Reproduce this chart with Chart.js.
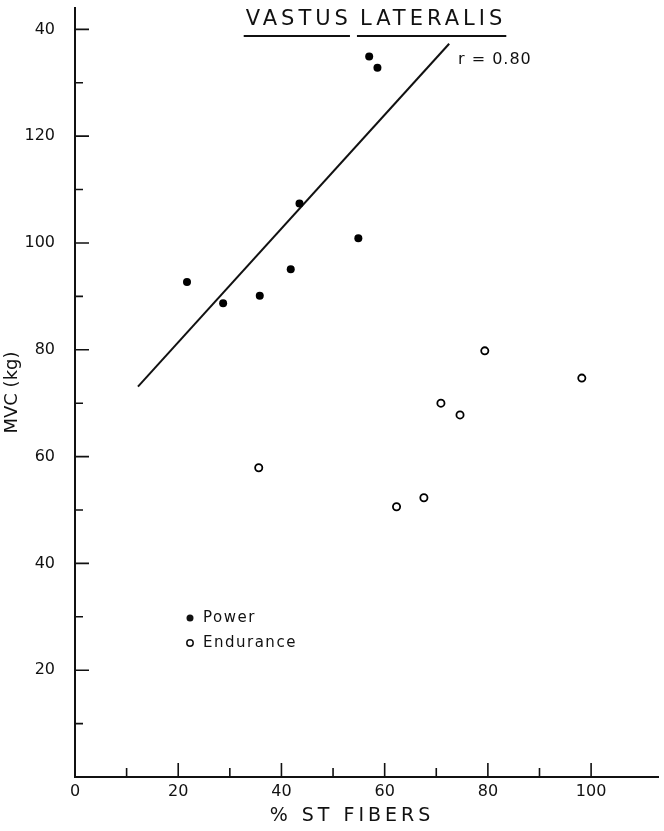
<!DOCTYPE html>
<html>
<head>
<meta charset="utf-8">
<script src="https://cdn.jsdelivr.net/npm/chart.js@4.4.0/dist/chart.umd.min.js"></script>
<style>
    html, body { margin: 0; padding: 0; background: #fff; }
    #wrap { position: relative; width: 664px; height: 831px; }
</style>
</head>
<body>
<div id="wrap"><canvas id="mvcChart"></canvas></div>
<script>
// values
var powerST = [21.7, 28.7, 35.8, 41.8, 43.5, 54.9, 57.0, 58.6];
var powerMVC = [92.7, 88.7, 90.1, 95.1, 107.4, 100.9, 134.9, 132.8];
var enduranceST = [35.6, 62.3, 67.6, 70.9, 74.6, 79.4, 98.2];
var enduranceMVC = [57.9, 50.6, 52.3, 70.0, 67.8, 79.8, 74.7];
var fitST = [12.2, 72.5];
var fitMVC = [73.1, 137.3];

var xTicks = [0, 20, 40, 60, 80, 100];
var xTickLabels = ['0', '20', '40', '60', '80', '100'];
var xMinor = [10, 30, 50, 70, 90];
var yTicks = [20, 40, 60, 80, 100, 120, 140];
var yTickLabels = ['20', '40', '60', '80', '100', '120', '40'];
var yMinor = [10, 30, 50, 70, 90, 110, 130];

var FONT = '"DejaVu Sans", sans-serif';

function toPoints(xs, ys) {
    return xs.map(function (x, i) { return { x: x, y: ys[i] }; });
}

// inward ticks, title, legend and notes
var decorations = {
    id: 'decorations',
    afterDraw: function (chart) {
        var ctx = chart.ctx;
        var xs = chart.scales.x, ys = chart.scales.y;
        var left = chart.chartArea.left, bottom = chart.chartArea.bottom;
        ctx.save();
        ctx.strokeStyle = '#111';
        ctx.lineWidth = 1.6;
        ctx.beginPath();
        yTicks.forEach(function (v) { var p = ys.getPixelForValue(v); ctx.moveTo(left, p); ctx.lineTo(left + 14, p); });
        yMinor.forEach(function (v) { var p = ys.getPixelForValue(v); ctx.moveTo(left, p); ctx.lineTo(left + 8, p); });
        xTicks.slice(1).forEach(function (v) { var p = xs.getPixelForValue(v); ctx.moveTo(p, bottom); ctx.lineTo(p, bottom - 14); });
        xMinor.forEach(function (v) { var p = xs.getPixelForValue(v); ctx.moveTo(p, bottom); ctx.lineTo(p, bottom - 9); });
        ctx.stroke();

        ctx.fillStyle = '#111';
        ctx.textBaseline = 'middle';

        // title with split underline
        ctx.font = '21px ' + FONT;
        ctx.letterSpacing = '4px';
        ctx.textAlign = 'left';
        var w1 = ctx.measureText('VASTUS').width;
        var w2 = ctx.measureText('LATERALIS').width;
        var gap = 8;
        var tx = 376 - (w1 + gap + w2) / 2;
        ctx.fillText('VASTUS', tx, 20);
        ctx.fillText('LATERALIS', tx + w1 + gap, 20);
        ctx.lineWidth = 2;
        ctx.beginPath();
        ctx.moveTo(tx - 2, 36); ctx.lineTo(tx + w1 - 2, 36);
        ctx.moveTo(tx + w1 + gap - 3, 36); ctx.lineTo(tx + w1 + gap + w2, 36);
        ctx.stroke();

        // correlation note
        ctx.font = '16px ' + FONT;
        ctx.letterSpacing = '1px';
        ctx.fillText('r = 0.80', 458, 60);

        // x axis title
        ctx.font = '19px ' + FONT;
        ctx.letterSpacing = '4px';
        ctx.textAlign = 'center';
        ctx.fillText('% ST FIBERS', 352, 816);

        // legend
        ctx.font = '15px ' + FONT;
        ctx.letterSpacing = '1.5px';
        ctx.textAlign = 'left';
        ctx.beginPath();
        ctx.arc(190, 618, 3.5, 0, Math.PI * 2);
        ctx.fill();
        ctx.fillText('Power', 203, 618);
        ctx.beginPath();
        ctx.lineWidth = 1.5;
        ctx.arc(190, 643, 3.2, 0, Math.PI * 2);
        ctx.stroke();
        ctx.fillText('Endurance', 203, 643);
        ctx.restore();
    }
};

var ctx = document.getElementById('mvcChart').getContext('2d');
var chart = new Chart(ctx, {
    type: 'scatter',
    data: {
        datasets: [{
            label: 'Power',
            data: toPoints(powerST, powerMVC),
            pointRadius: 4,
            backgroundColor: '#000',
            borderColor: '#000',
            borderWidth: 0
        }, {
            label: 'Endurance',
            data: toPoints(enduranceST, enduranceMVC),
            pointRadius: 3.6,
            backgroundColor: '#fff',
            borderColor: '#000',
            borderWidth: 1.8
        }, {
            type: 'line',
            label: 'fit',
            data: toPoints(fitST, fitMVC),
            borderColor: '#111',
            borderWidth: 2,
            pointRadius: 0,
            fill: false
        }]
    },
    options: {
        responsive: true,
        maintainAspectRatio: false,
        animation: false,
        layout: { padding: { top: 8, right: 0, left: 0, bottom: 0 } },
        plugins: {
            legend: { display: false },
            tooltip: { enabled: false }
        },
        scales: {
            x: {
                type: 'linear',
                min: 0,
                max: 113,
                grid: { display: false, drawTicks: false },
                border: { display: true, color: '#111', width: 2 },
                afterBuildTicks: function (scale) {
                    scale.ticks = xTicks.map(function (v) { return { value: v }; });
                },
                afterFit: function (scale) {
                    scale.height = 54;
                    scale.paddingLeft = 0;
                    scale.paddingRight = 0;
                },
                ticks: {
                    padding: 5,
                    color: '#111',
                    font: { family: FONT, size: 16 },
                    maxRotation: 0,
                    callback: function (v) {
                        var i = xTicks.indexOf(v);
                        return i >= 0 ? xTickLabels[i] : '';
                    }
                }
            },
            y: {
                type: 'linear',
                min: 0,
                max: 144,
                grid: { display: false, drawTicks: false },
                border: { display: true, color: '#111', width: 2 },
                afterBuildTicks: function (scale) {
                    scale.ticks = yTicks.map(function (v) { return { value: v }; });
                },
                afterFit: function (scale) {
                    scale.width = 75;
                    scale.paddingTop = 0;
                    scale.paddingBottom = 0;
                },
                title: {
                    display: true,
                    text: 'MVC (kg)',
                    color: '#111',
                    font: { family: FONT, size: 18 },
                    padding: { top: 2, bottom: 0 }
                },
                ticks: {
                    padding: 20,
                    color: '#111',
                    font: { family: FONT, size: 16 },
                    callback: function (v) {
                        var i = yTicks.indexOf(v);
                        return i >= 0 ? yTickLabels[i] : '';
                    }
                }
            }
        }
    },
    plugins: [decorations]
});
</script>
</body>
</html>
